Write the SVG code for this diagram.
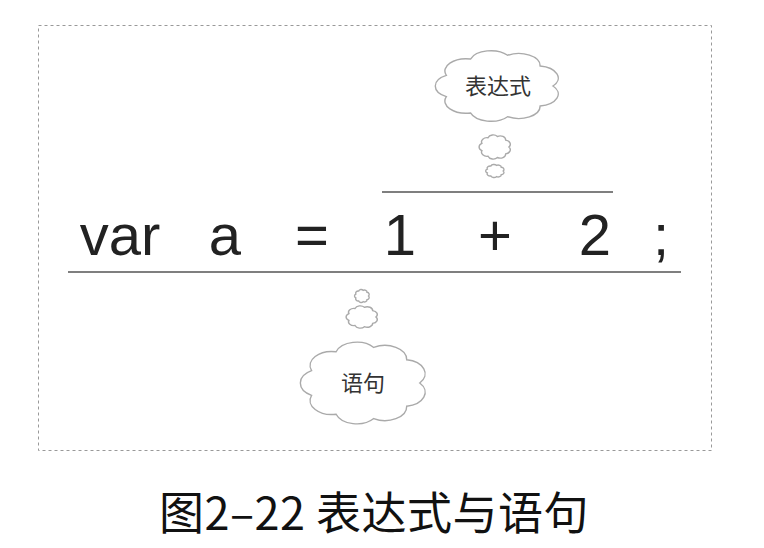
<svg xmlns="http://www.w3.org/2000/svg" xmlns:xlink="http://www.w3.org/1999/xlink" width="764" height="548" viewBox="0 0 764 548">
<style>
.cloud{fill:#fff;stroke:#aaa;stroke-width:1.4;vector-effect:non-scaling-stroke}
.code{font-family:"Liberation Sans",Arial,sans-serif;font-size:58px;fill:#222;text-anchor:middle}
.lbl{font-family:"Noto Sans CJK SC",sans-serif;font-size:22px;fill:#333;text-anchor:middle}
.cap{font-family:"Noto Sans CJK SC",sans-serif;font-size:45px;fill:#111;text-anchor:middle;letter-spacing:0.5px}
.line{stroke:#555;stroke-width:1.5}
</style>
<defs>
<path id="cloud" class="cloud" d="M0.82,0 A0.32,0.32 0 0 1 0.628,0.527 A0.32,0.32 0 0 1 0.143,0.808 A0.32,0.32 0 0 1 -0.41,0.71 A0.32,0.32 0 0 1 -0.771,0.28 A0.32,0.32 0 0 1 -0.771,-0.28 A0.32,0.32 0 0 1 -0.41,-0.71 A0.32,0.32 0 0 1 0.143,-0.808 A0.32,0.32 0 0 1 0.628,-0.527 A0.32,0.32 0 0 1 0.82,0 Z"/>
</defs>
<rect x="38.5" y="25.5" width="673" height="425" fill="none" stroke="#999" stroke-width="1" stroke-dasharray="3,3"/>
<g id="statement-code">
<text class="code" x="120" y="255">var</text>
<text class="code" x="225" y="255">a</text>
<text class="code" x="312" y="255">=</text>
<text class="code" x="400" y="255">1</text>
<text class="code" x="495" y="255">+</text>
<text class="code" x="595" y="255">2</text>
<text class="code" x="661" y="255">;</text>
</g>
<g id="connectors">
<line class="line" x1="68" y1="272" x2="681" y2="272"/>
<line class="line" x1="382" y1="192" x2="613" y2="192"/>
</g>
<g id="expression-cloud">
<use xlink:href="#cloud" transform="translate(495,171) scale(10,7)"/>
<use xlink:href="#cloud" transform="translate(495,147) scale(17,13)"/>
<use xlink:href="#cloud" transform="translate(498,86) scale(67,38)"/>
<text class="lbl" x="498" y="94">表达式</text>
</g>
<g id="statement-cloud">
<use xlink:href="#cloud" transform="translate(362,296) scale(8,7)"/>
<use xlink:href="#cloud" transform="translate(362,317) scale(17,12)"/>
<use xlink:href="#cloud" transform="translate(364,383) scale(68,44)"/>
<text class="lbl" x="363" y="391">语句</text>
</g>
<text class="cap" x="374" y="530">图2–22 表达式与语句</text>
</svg>
